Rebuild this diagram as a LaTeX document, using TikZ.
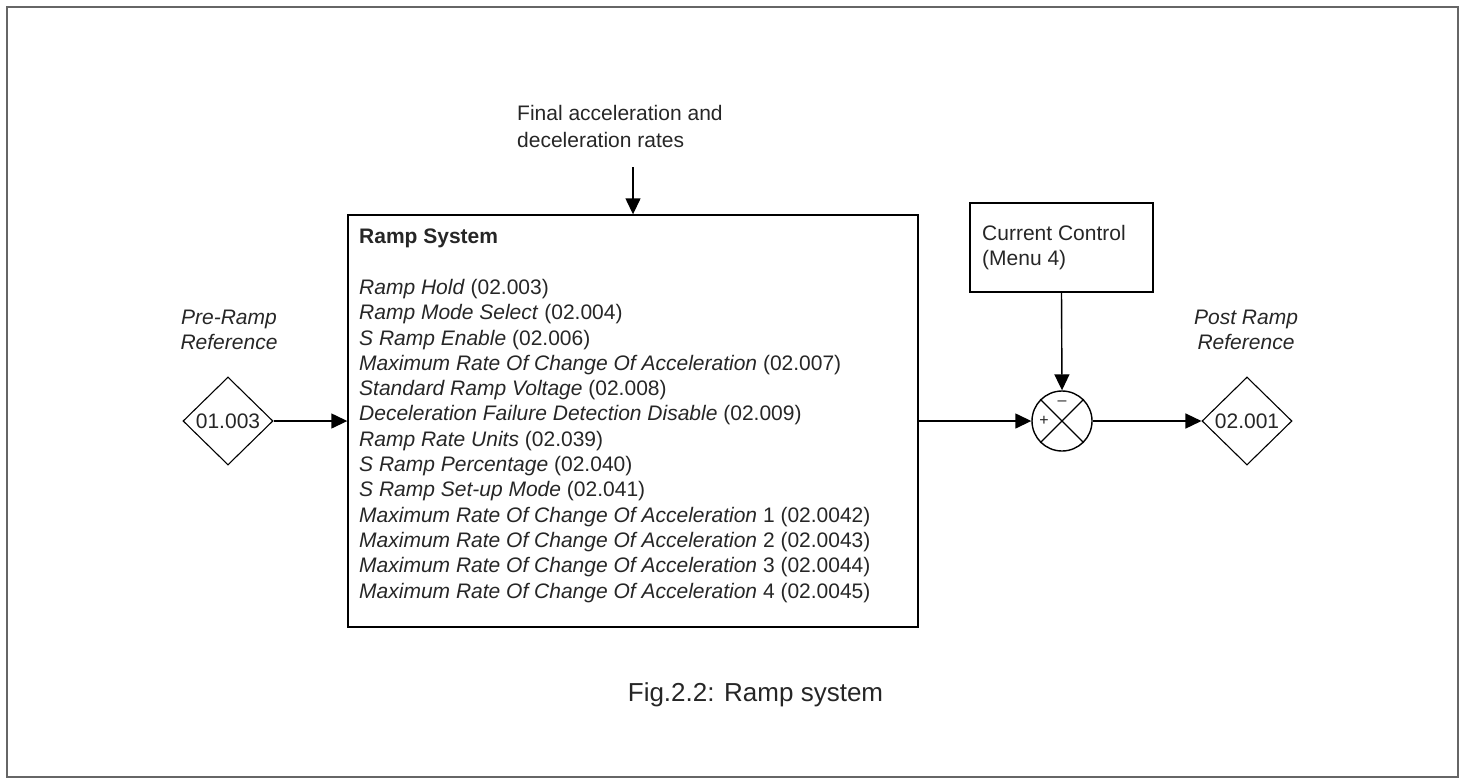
\documentclass[tikz,border=0pt]{standalone}
\usepackage{fontspec}
\setmainfont{Liberation Sans}
\usetikzlibrary{shapes.geometric,arrows.meta}
\begin{document}
\begin{tikzpicture}[x=1pt,y=-1pt,
  every node/.style={font=\fontsize{21}{25.3}\selectfont, text=black!85},
  box/.style={draw, line width=1.4pt, inner sep=0},
  dia/.style={draw, diamond, line width=1.1pt, minimum width=90pt, minimum height=88pt, inner sep=0},
  lbl/.style={align=center, inner sep=0, font=\itshape\fontsize{21}{25.3}\selectfont},
  txt/.style={anchor=north west, align=left, inner sep=0},
  arr/.style={line width=1.4pt, -{Triangle[length=16pt,width=15pt]}},
]
\useasboundingbox (0,0) rectangle (1466,780);
\draw[line width=2pt, black!60] (7,7) rectangle (1458,777);

\node[box, minimum width=570pt, minimum height=412pt] (ramp) at (633,421) {};
\node[txt] (ramptext) at (359,229) {\textbf{Ramp System}\\[25.3pt]
\textit{Ramp Hold} (02.003)\\
\textit{Ramp Mode Select} (02.004)\\
\textit{S Ramp Enable} (02.006)\\
\textit{Maximum Rate Of Change Of Acceleration} (02.007)\\
\textit{Standard Ramp Voltage} (02.008)\\
\textit{Deceleration Failure Detection Disable} (02.009)\\
\textit{Ramp Rate Units} (02.039)\\
\textit{S Ramp Percentage} (02.040)\\
\textit{S Ramp Set-up Mode} (02.041)\\
\textit{Maximum Rate Of Change Of Acceleration} 1 (02.0042)\\
\textit{Maximum Rate Of Change Of Acceleration} 2 (02.0043)\\
\textit{Maximum Rate Of Change Of Acceleration} 3 (02.0044)\\
\textit{Maximum Rate Of Change Of Acceleration} 4 (02.0045)};

\node[dia] (d1) at (228,421) {01.003};
\node[lbl] (pre) at (229,330) {Pre-Ramp\\Reference};
\node[dia] (d2) at (1247,421) {02.001};
\node[lbl] (post) at (1246,330) {Post Ramp\\Reference};

\node[circle, draw, line width=1.4pt, minimum size=60pt, inner sep=0] (sum) at (1062,421) {};
\draw[line width=1.1pt] (sum.north east) -- (sum.south west) (sum.north west) -- (sum.south east);
\node[inner sep=0, font=\fontsize{16}{16}\selectfont] (minus) at (1062,403) {–};
\node[inner sep=0, font=\fontsize{16}{16}\selectfont] (plus) at (1044,421) {+};

\node[box, minimum width=183pt, minimum height=89pt] (cc) at (1061.5,247.5) {};
\node[txt] (cctext) at (982,225) {Current Control\\(Menu 4)};

\node[txt, font=\fontsize{21}{26.5}\selectfont] (final) at (517,105.5) {Final acceleration and\\deceleration rates};
\coordinate (fstart) at (633,167);

\node[font=\fontsize{26}{30}\selectfont] (cap) at (755.5,695) {Fig.2.2: Ramp system};

\draw[arr] (d1.east) -- (ramp.west);
\draw[arr] (ramp.east) -- (sum.west);
\draw[arr] (sum.east) -- (d2.west);
\draw[arr] (cc.south) -- (sum.north);
\draw[arr] (fstart) -- (ramp.north);
\end{tikzpicture}
\end{document}
